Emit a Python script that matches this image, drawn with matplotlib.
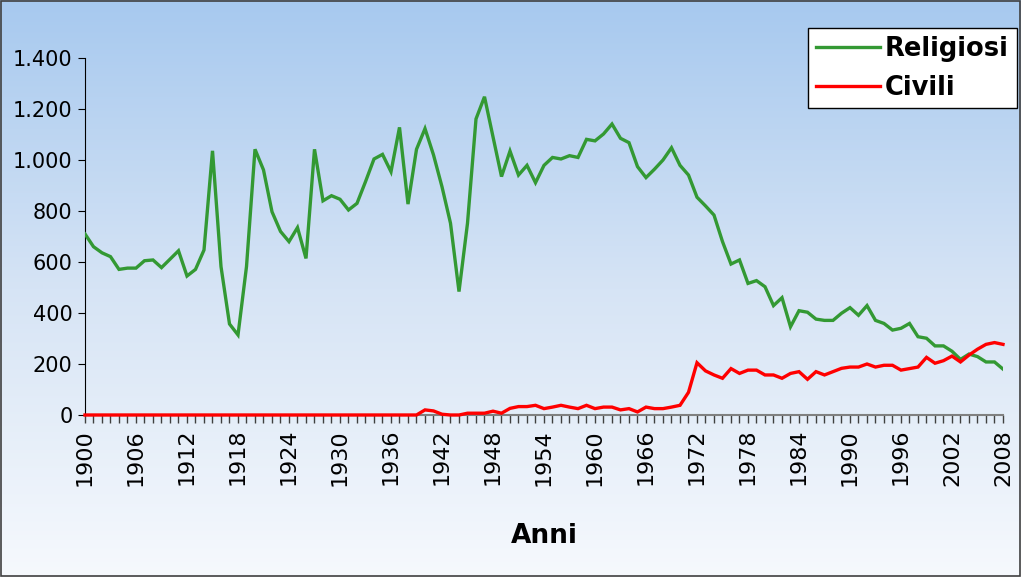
import matplotlib
matplotlib.use("Agg")
import matplotlib.pyplot as plt
import numpy as np
from matplotlib.ticker import FuncFormatter, MultipleLocator, FixedLocator
from matplotlib.colors import LinearSegmentedColormap
from matplotlib.patches import Rectangle

years = list(range(1900, 2009))
tick_years = [1900, 1906, 1912, 1918, 1924, 1930, 1936, 1942, 1948, 1954,
              1960, 1966, 1972, 1978, 1984, 1990, 1996, 2002, 2008]

religiosi = [
    710, 660, 636, 621, 571, 576, 576, 605, 608, 578,
    611, 644, 545, 571, 647, 1036, 582, 357, 314, 582,
    1042, 961, 797, 720, 680, 735, 614, 1042, 840, 860,
    846, 804, 830, 915, 1004, 1022, 954, 1128, 827, 1042,
    1123, 1020, 895, 752, 484, 752, 1161, 1248, 1091, 935,
    1035, 941, 979, 911, 979, 1010, 1004, 1017, 1010, 1081,
    1075, 1102, 1141, 1085, 1068, 974, 931, 964, 1000, 1048,
    979, 941, 854, 820, 784, 680, 592, 608, 516, 527,
    503, 429, 460, 346, 409, 403, 376, 371, 371, 399,
    421, 391, 429, 371, 359, 333, 340, 359, 307, 301,
    271, 271, 250, 218, 239, 229, 208, 208, 180,
]

civili = [
    0, 0, 0, 0, 0, 0, 0, 0, 0, 0,
    0, 0, 0, 0, 0, 0, 0, 0, 0, 0,
    0, 0, 0, 0, 0, 0, 0, 0, 0, 0,
    0, 0, 0, 0, 0, 0, 0, 0, 0, 0,
    20, 16, 3, 0, 0, 7, 7, 7, 15, 7,
    26, 33, 33, 38, 25, 31, 38, 31, 25, 38,
    25, 31, 31, 20, 25, 12, 31, 25, 25, 31,
    38, 89, 205, 173, 157, 144, 182, 163, 176, 176,
    157, 157, 144, 163, 170, 140, 170, 157, 170, 183,
    188, 188, 200, 188, 195, 195, 176, 182, 188, 226,
    203, 213, 231, 208, 235, 258, 277, 284, 277,
]

series_labels = ["Religiosi", "Civili"]
x_label = "Anni"

W, H = 1021, 577
fig = plt.figure(figsize=(W / 100, H / 100), dpi=100)

# gradient background
bg = fig.add_axes([0, 0, 1, 1], zorder=-10)
cmap = LinearSegmentedColormap.from_list("bg", ["#a7c9ef", "#d6e4f5", "#f6f9fd"])
grad = np.linspace(0, 1, 256).reshape(-1, 1)
bg.imshow(grad, aspect="auto", cmap=cmap, extent=[0, 1, 0, 1], origin="upper")
bg.set_axis_off()
fig.patches.append(Rectangle((0.0008, 0.001), 0.998, 0.997, transform=fig.transFigure,
                             fill=False, edgecolor="#404040", linewidth=1.2))

ax = fig.add_axes([85 / W, 1 - 415 / H, 918 / W, 357 / H])
ax.set_facecolor("none")

ax.plot(years, religiosi, color="#339933", linewidth=2.4, label=series_labels[0],
        solid_joinstyle="miter", zorder=4)
ax.plot(years, civili, color="#ff0000", linewidth=2.4, label=series_labels[1],
        solid_joinstyle="miter", clip_on=False, zorder=5)

ax.set_xlim(1900, 2008)
ax.set_ylim(0, 1400)
ax.xaxis.set_major_locator(FixedLocator(tick_years))
ax.xaxis.set_minor_locator(MultipleLocator(1))
ax.yaxis.set_major_locator(MultipleLocator(200))
ax.yaxis.set_major_formatter(FuncFormatter(lambda v, p: f"{v:,.0f}".replace(",", ".")))

for s in ["top", "right"]:
    ax.spines[s].set_visible(False)
ax.spines["left"].set_color("#000000")
ax.spines["bottom"].set_color("#808080")
ax.spines["bottom"].set_linewidth(1.5)
ax.spines["left"].set_zorder(3)
ax.spines["bottom"].set_zorder(3)

ax.tick_params(axis="x", which="both", direction="out", length=6, width=1, color="#404040")
ax.tick_params(axis="x", which="major", labelsize=16, labelrotation=90, pad=4)
ax.tick_params(axis="y", which="major", direction="out", length=5, labelsize=15, pad=4)

ax.set_xlabel(x_label, fontsize=19, fontweight="bold", labelpad=27)

leg = ax.legend(loc="upper left", bbox_to_anchor=(808 / W, 1 - 28 / H), bbox_transform=fig.transFigure,
                prop={"size": 18.5, "weight": "bold"}, frameon=True, fancybox=False,
                handlelength=2.5, handletextpad=0.2, borderpad=0.3, labelspacing=0.5,
                borderaxespad=0)
leg.get_frame().set_edgecolor("#000000")
leg.get_frame().set_facecolor("white")
leg.get_frame().set_alpha(1)
leg.get_frame().set_linewidth(1)

fig.savefig("out.png", dpi=100)
